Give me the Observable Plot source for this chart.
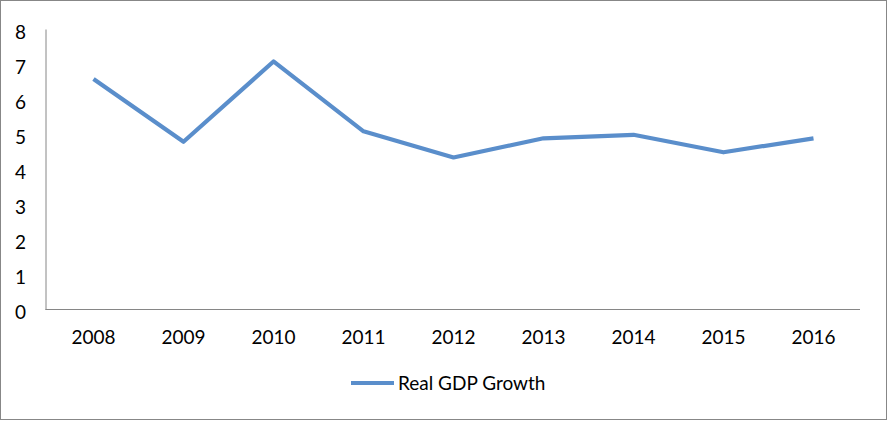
<!DOCTYPE html>
<html>
<head>
<meta charset="utf-8">
<script src="https://cdn.jsdelivr.net/npm/d3@7"></script>
<script src="https://cdn.jsdelivr.net/npm/@observablehq/plot@0.6"></script>
<style>
  body { margin: 0; background: #fff; }
  #chart {
    position: absolute; left: 0; top: 0;
    width: 887px; height: 420px;
    border: 1px solid #878787; box-sizing: border-box;
    font-family: Lato, "Open Sans", sans-serif;
  }
  #plot { position: absolute; left: 0; top: 0; }
  #legend {
    position: absolute; left: 350px; top: 370px;
    display: flex; align-items: center;
    font-size: 19px; color: #000;
  }
  #legend .swatch { width: 43px; height: 4px; background: #5a8ecb; margin-right: 4px; }
</style>
</head>
<body>
<div id="chart">
  <div id="plot"></div>
  <div id="legend"><span class="swatch"></span><span class="label"></span></div>
</div>
<script>
const years = ["2008", "2009", "2010", "2011", "2012", "2013", "2014", "2015", "2016"];
const growth = [6.6, 4.8, 7.1, 5.1, 4.35, 4.9, 5.0, 4.5, 4.9];
const yTicks = [0, 1, 2, 3, 4, 5, 6, 7, 8];
const seriesName = "Real GDP Growth";

const data = years.map((year, i) => ({year, value: growth[i]}));
const lineColor = "#5a8ecb";
const axisColor = "#868686";

const chart = Plot.plot({
  width: 885,
  height: 360,
  marginLeft: 44.5,
  marginRight: 26,
  marginTop: 28.5,
  marginBottom: 52,
  style: {fontFamily: "Lato, 'Open Sans', sans-serif", fontSize: "19px", color: "#000", background: "transparent", overflow: "visible"},
  x: {type: "point", domain: years, padding: 0.5},
  y: {domain: [0, 8]},
  marks: [
    Plot.frame({anchor: "left", stroke: axisColor, strokeWidth: 1}),
    Plot.ruleY([0], {stroke: axisColor, strokeWidth: 1.2}),
    Plot.axisY({ticks: yTicks, tickSize: 0, tickPadding: 20, label: null, dy: 3.3, fill: "#000"}),
    Plot.axisX({tickSize: 0, tickPadding: 21, label: null, fill: "#000"}),
    Plot.line(data, {x: "year", y: "value", stroke: lineColor, strokeWidth: 4.2, strokeLinejoin: "round", strokeLinecap: "butt"})
  ]
});
document.getElementById("plot").appendChild(chart);
document.querySelector("#legend .label").textContent = seriesName;
</script>
</body>
</html>
